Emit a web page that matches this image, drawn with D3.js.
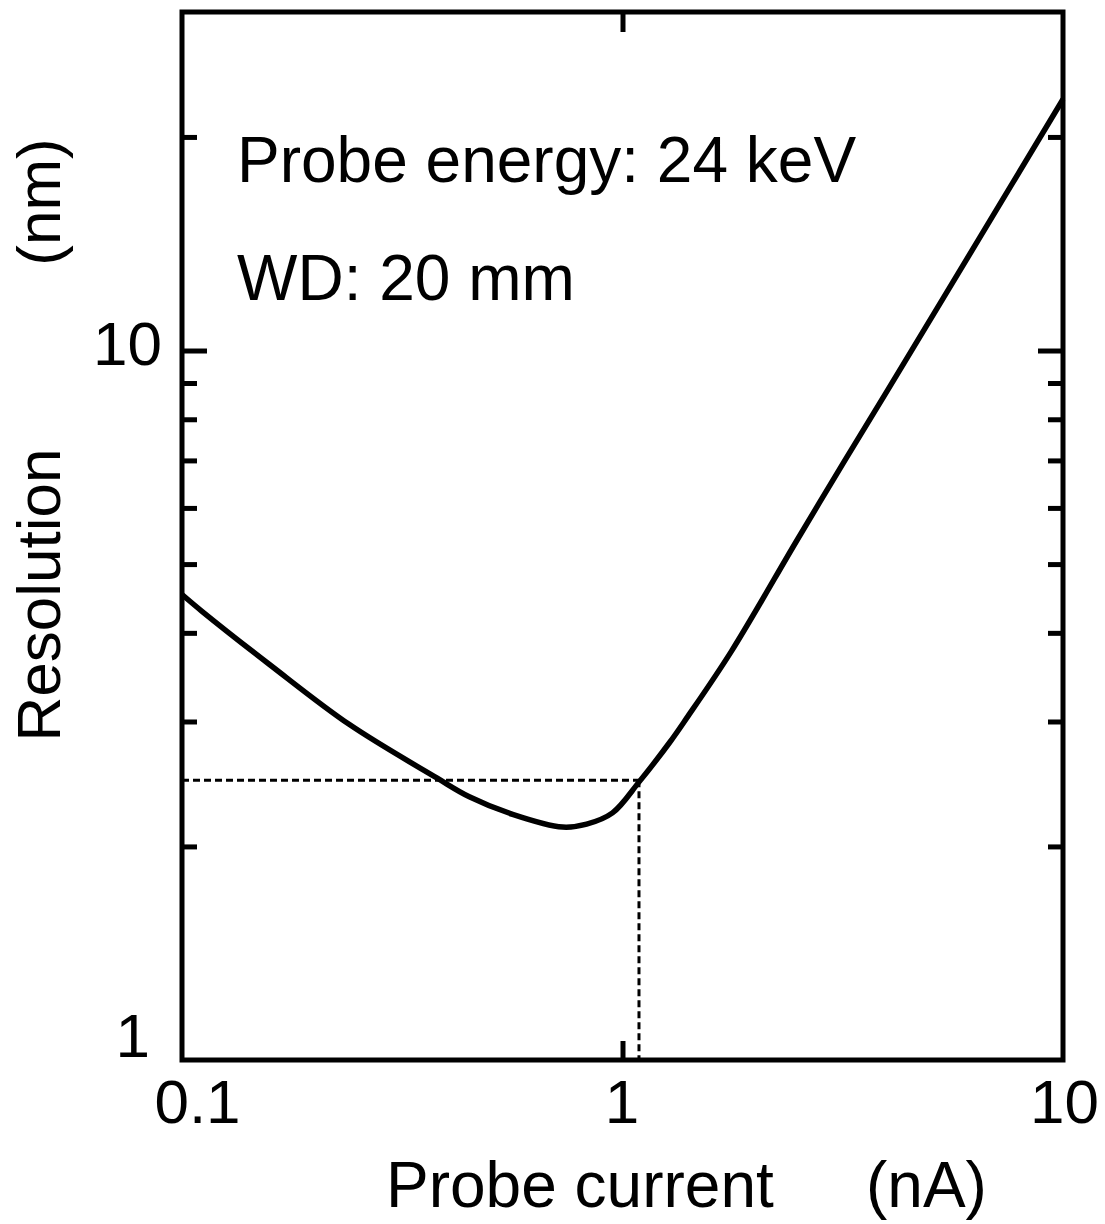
<!DOCTYPE html>
<html>
<head>
<meta charset="utf-8">
<script src="https://cdn.jsdelivr.net/npm/d3@7"></script>
<style>
  html, body { margin: 0; padding: 0; background: #fff; }
  text { font-family: "Liberation Sans", Arial, Helvetica, sans-serif; fill: #000; }
</style>
</head>
<body>
<svg id="chart" width="1105" height="1224"></svg>
<script>
// ---- data ----
const current = [0.1, 0.111, 0.158, 0.24, 0.378, 0.449, 0.563, 0.731, 0.829, 0.949, 1.093, 1.278, 1.397, 1.768, 2.48, 3.06, 3.98, 6.46, 10];
const resolution = [4.53, 4.29, 3.61, 2.97, 2.50, 2.35, 2.22, 2.13, 2.15, 2.23, 2.47, 2.80, 3.03, 3.77, 5.38, 6.69, 8.75, 14.4, 22.6];
const xTickValues = [0.1, 1, 10];
const xTickLabels = ["0.1", "1", "10"];
const yMajorTicks = [1, 10];
const yMajorLabels = ["1", "10"];
const yMinorTicks = [2, 3, 4, 5, 6, 7, 8, 9, 20];
const markCurrent = 1.09;
const markResolution = 2.48;
const annotations = ["Probe energy: 24 keV", "WD: 20 mm"];
const xTitle = ["Probe current", "(nA)"];
const yTitle = ["Resolution", "(nm)"];

// ---- layout ----
const L = 182, R = 1063, T = 12, B = 1060;
const svg = d3.select("#chart");
const x = d3.scaleLog().domain([0.1, 10]).range([L, R]);
const y = d3.scaleLog().domain([1, 30]).range([B, T]);
const FS = 62, FT = 64;
const SW = 5;

function styleAxis(g) {
  g.select(".domain").remove();
  g.selectAll(".tick line").attr("stroke", "#000").attr("stroke-width", SW);
  g.selectAll(".tick text").attr("font-size", FS).attr("font-family", "Liberation Sans, Arial, sans-serif").attr("fill", "#000");
}

// left major
const gLeft = svg.append("g").attr("transform", `translate(${L},0)`)
  .call(d3.axisLeft(y).tickValues(yMajorTicks).tickSizeInner(-25).tickSizeOuter(0).tickPadding(20)
    .tickFormat((d, i) => yMajorLabels[i]))
  .call(styleAxis);
gLeft.selectAll(".tick text").attr("dy", d => d === 1 ? "-0.05em" : "0.22em")
  .attr("x", d => d === 1 ? -32 : -20);
gLeft.selectAll(".tick").filter(d => d === 1).select("line").remove();
// left minor
svg.append("g").attr("transform", `translate(${L},0)`)
  .call(d3.axisLeft(y).tickValues(yMinorTicks).tickSizeInner(-15).tickSizeOuter(0).tickFormat(""))
  .call(styleAxis);
// right major + minor
svg.append("g").attr("transform", `translate(${R},0)`)
  .call(d3.axisRight(y).tickValues(yMajorTicks.filter(d => d !== 1)).tickSizeInner(-25).tickSizeOuter(0).tickFormat(""))
  .call(styleAxis);
svg.append("g").attr("transform", `translate(${R},0)`)
  .call(d3.axisRight(y).tickValues(yMinorTicks).tickSizeInner(-15).tickSizeOuter(0).tickFormat(""))
  .call(styleAxis);

// bottom
const gBottom = svg.append("g").attr("transform", `translate(0,${B})`)
  .call(d3.axisBottom(x).tickValues(xTickValues).tickSizeInner(-19).tickSizeOuter(0).tickPadding(0)
    .tickFormat((d, i) => xTickLabels[i]))
  .call(styleAxis);
gBottom.selectAll(".tick text").attr("dy", null).attr("y", 63)
  .attr("x", d => d === 0.1 ? 15 : (d === 1 ? -1 : 1));
gBottom.selectAll(".tick").filter(d => d !== 1).select("line").remove();
// top
svg.append("g").attr("transform", `translate(0,${T})`)
  .call(d3.axisTop(x).tickValues(xTickValues.filter(d => d === 1)).tickSizeInner(-20).tickSizeOuter(0).tickFormat(""))
  .call(styleAxis);

// dashed guide lines
svg.append("line")
  .attr("x1", x(0.1)).attr("x2", x(markCurrent))
  .attr("y1", y(markResolution)).attr("y2", y(markResolution))
  .attr("stroke", "#000").attr("stroke-width", 3).attr("stroke-dasharray", "7,4");
svg.append("line")
  .attr("x1", x(markCurrent)).attr("x2", x(markCurrent))
  .attr("y1", y(markResolution)).attr("y2", y(1))
  .attr("stroke", "#000").attr("stroke-width", 3).attr("stroke-dasharray", "7,4");

// curve
const pts = current.map((c, i) => [c, resolution[i]]);
svg.append("path")
  .datum(pts)
  .attr("fill", "none").attr("stroke", "#000").attr("stroke-width", 5.5)
  .attr("stroke-linejoin", "round")
  .attr("d", d3.line().x(d => x(d[0])).y(d => y(d[1])).curve(d3.curveCatmullRom.alpha(0.5)));

// frame
svg.append("rect").attr("x", L).attr("y", T).attr("width", R - L).attr("height", B - T)
  .attr("fill", "none").attr("stroke", "#000").attr("stroke-width", SW);

// annotations
svg.append("text").attr("x", 237).attr("y", 182).attr("font-size", FT).text(annotations[0]);
svg.append("text").attr("x", 237).attr("y", 300).attr("font-size", FT).text(annotations[1]);

// axis titles
svg.append("text").attr("x", 386).attr("y", 1207).attr("font-size", FT).text(xTitle[0]);
svg.append("text").attr("x", 866).attr("y", 1207).attr("font-size", FT).text(xTitle[1]);
svg.append("text").attr("transform", "translate(60,595) rotate(-90)").attr("text-anchor", "middle")
  .attr("font-size", FS).text(yTitle[0]);
svg.append("text").attr("transform", "translate(60,202) rotate(-90)").attr("text-anchor", "middle")
  .attr("font-size", FS).text(yTitle[1]);
</script>
</body>
</html>
